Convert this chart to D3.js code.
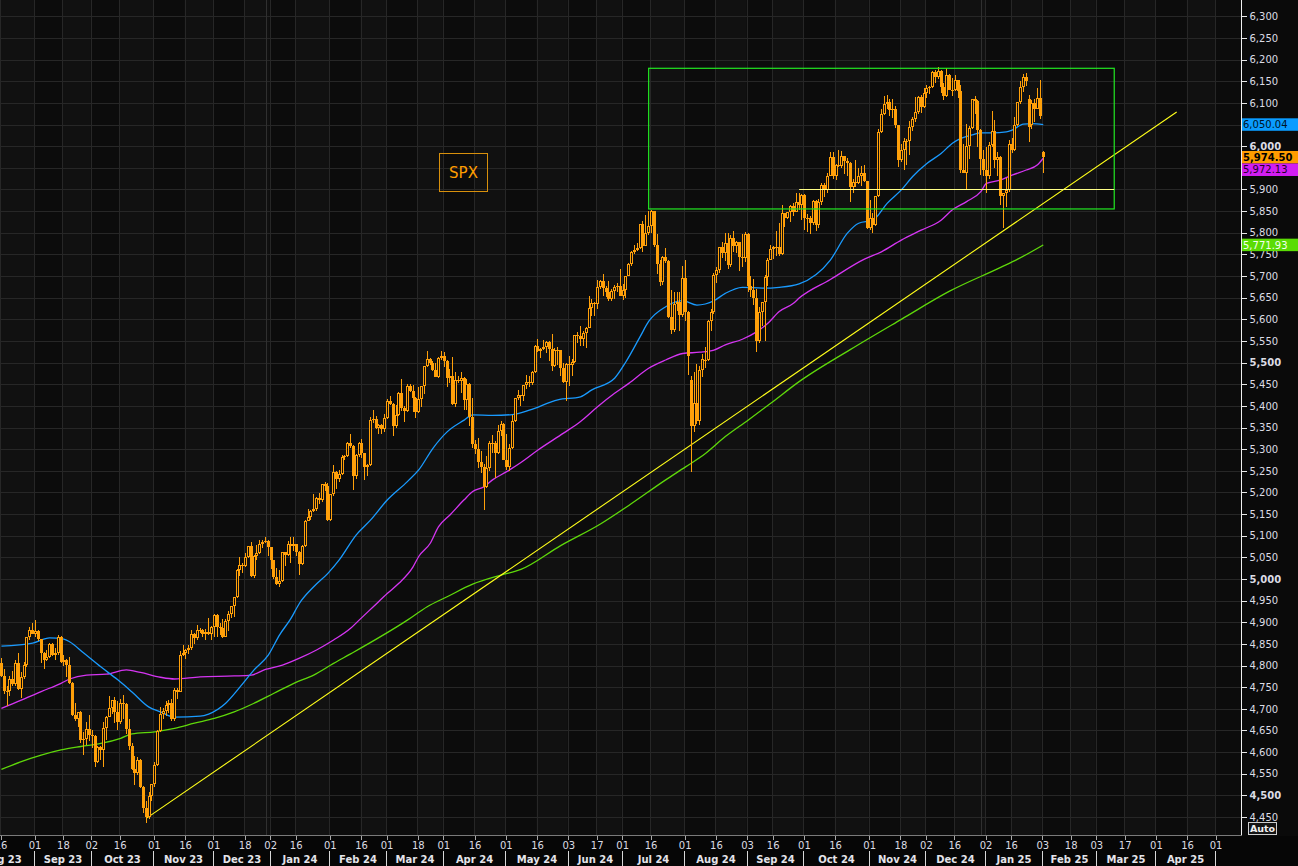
<!DOCTYPE html>
<html><head><meta charset="utf-8">
<script src="https://cdn.jsdelivr.net/npm/d3@7"></script>
<style>
html,body{margin:0;padding:0;background:#0a0a0a;overflow:hidden;}
svg{display:block;}
</style></head><body>
<svg id="chart" width="1298" height="866"></svg>
<script>
// ---------------- DATA ----------------
const startDate = "2023-08-16";
const holidays = ["2023-09-04","2023-11-23","2023-12-25","2024-01-01","2024-01-15","2024-02-19","2024-03-29",
  "2024-05-27","2024-06-19","2024-07-04","2024-09-02","2024-11-28","2024-12-25","2025-01-01","2025-01-09",
  "2025-01-20","2025-02-17","2025-04-18"];

const opens = [
 4805,4776,4738,4741,4770,4758,4805,4745,4774,4801,4865,4882,
 4874,4881,4861,4829,4814,4820,4849,4824,4828,4865,4808,4812,4801,4759,4686,4676,4692,4629,4630,4653,
 4640,4638,4578,4612,4605,4655,4681,4702,4720,4692,4669,4714,4712,4653,4615,4560,4552,4582,4520,4470,4449,4499,
 4526,4570,4649,4689,4696,4708,4713,4676,4744,4740,4824,4830,4835,4840,4873,4863,4882,4883,4874,4878,4874,
 4890,4916,4890,4886,4867,4903,4920,4937,4958,5020,5032,5030,5051,5077,5006,5054,5061,5080,5086,5087,
 5073,5043,5005,4988,4996,5062,5055,5080,5077,5080,5062,5034,5076,5134,5144,5158,5162,5186,5183,5219,5216,
 5136,5196,5248,5232,5242,5283,5285,5314,5308,5238,5286,5314,5290,5259,5264,5368,5369,5349,5356,5347,
 5372,5412,5405,5353,5378,5430,5396,5389,5446,5435,5419,5385,5417,5446,5491,5508,5499,5482,5467,5511,
 5516,5504,5465,5469,5404,5460,5457,5464,5414,5451,5374,5312,5300,5270,5258,5213,5256,5313,5315,5291,5342,5357,
 5276,5258,5303,5366,5418,5424,5423,5448,5456,5453,5478,5538,5526,5531,5535,5547,5532,5492,5526,5528,5488,5455,
 5497,5495,5502,5564,5562,5555,5568,5581,5626,5638,5635,5675,5688,5673,5664,5646,5666,5674,5678,
 5653,5667,5700,5727,5756,5761,5764,5820,5770,5800,5815,5851,5771,5727,5686,5744,5735,5605,5576,5635,5639,5610,
 5695,5617,5460,5354,5407,5366,5484,5505,5507,5596,5616,5703,5713,5766,5754,5777,5726,5789,5770,5778,5743,5742,
 5798,5678,5668,5650,5550,5616,5640,5697,5738,5762,5767,5768,5750,5845,5833,5848,5861,5849,5871,5864,
 5887,5832,5834,5823,5873,5817,5871,5911,5898,5932,5976,5930,5956,5954,5977,5965,5961,5906,5918,5915,5930,5939,5919,
 5810,5833,5817,5886,6032,6075,6098,6102,6084,6085,6048,5969,5991,6011,6013,6044,6063,6080,6114,6091,
 6123,6135,6137,6172,6160,6174,6136,6117,6165,6131,6130,6152,6128,5944,5938,6001,6043,6108,6105,6037,5971,
 5945,5931,6003,6035,5968,5976,5884,5892,5898,6004,5991,6050,6101,6137,6160,6110,6050,6100,6087,6112,
 5987
];
const highs = [
 4818,4792,4753,4777,4788,4812,4828,4786,4808,4867,4888,4898,
 4906,4882,4862,4832,4836,4852,4851,4840,4871,4868,4824,4815,4819,4762,4713,4693,4694,4646,4670,4685,
 4650,4640,4614,4615,4670,4684,4729,4721,4727,4718,4723,4733,4713,4676,4620,4591,4589,4585,4522,4488,4507,4526,
 4578,4650,4705,4702,4717,4721,4722,4747,4749,4833,4848,4838,4847,4883,4875,4894,4886,4885,4885,4910,4891,
 4920,4918,4898,4908,4907,4926,4938,4958,5022,5051,5036,5059,5077,5086,5055,5078,5089,5089,5097,5091,
 5074,5045,5025,5020,5062,5063,5087,5096,5098,5081,5064,5078,5137,5162,5159,5196,5190,5199,5220,5223,5222,
 5197,5264,5249,5252,5287,5287,5317,5334,5310,5288,5316,5323,5291,5265,5375,5391,5376,5358,5358,5381,
 5415,5423,5406,5401,5433,5461,5399,5450,5450,5449,5420,5443,5447,5491,5527,5511,5503,5499,5512,5527,
 5524,5506,5486,5513,5478,5468,5479,5466,5463,5454,5418,5322,5325,5296,5266,5284,5320,5333,5318,5356,5364,5360,
 5336,5312,5378,5418,5436,5426,5449,5472,5470,5481,5541,5554,5533,5552,5550,5551,5566,5534,5537,5530,5500,5499,
 5515,5509,5564,5571,5584,5572,5582,5653,5646,5640,5691,5690,5705,5677,5688,5670,5680,5685,5717,
 5682,5700,5729,5759,5771,5777,5821,5827,5840,5851,5853,5851,5796,5738,5747,5764,5737,5668,5664,5662,5663,5724,
 5736,5620,5470,5479,5496,5493,5520,5535,5598,5625,5706,5721,5767,5778,5799,5799,5795,5804,5780,5779,5796,5801,
 5800,5700,5693,5669,5629,5641,5703,5742,5772,5770,5804,5822,5864,5846,5849,5863,5868,5893,5891,5890,
 5889,5844,5838,5875,5875,5877,5915,5914,5939,5987,5986,5960,5991,5990,5978,5973,5963,5925,5969,5949,5954,5956,5920,
 5876,5846,5886,6040,6085,6115,6118,6110,6108,6092,6050,6006,6018,6017,6058,6067,6113,6117,6118,6135,
 6141,6139,6173,6177,6184,6176,6147,6180,6167,6158,6164,6153,6142,6006,6052,6047,6108,6116,6106,6040,5992,
 5997,6010,6081,6060,5986,5978,5893,5926,6014,6018,6067,6103,6151,6166,6168,6118,6106,6110,6135,6152,
 5990
];
const lows = [
 4773,4735,4706,4730,4752,4752,4744,4724,4770,4797,4860,4872,
 4866,4856,4806,4793,4810,4818,4822,4814,4825,4806,4800,4773,4757,4684,4672,4657,4620,4593,4617,4626,
 4610,4566,4574,4582,4566,4628,4680,4688,4667,4652,4665,4677,4642,4606,4559,4525,4548,4516,4460,4436,4445,4486,
 4520,4568,4646,4677,4683,4690,4672,4672,4722,4738,4822,4815,4826,4837,4850,4860,4876,4865,4860,4870,4859,
 4867,4865,4870,4864,4865,4881,4909,4913,4956,5007,5015,5028,5048,5005,5003,5043,5058,5072,5084,5054,
 5023,4999,4986,4982,4994,5029,5052,5037,5064,5052,5009,5032,5074,5133,5137,5155,5158,5173,5178,5204,5135,
 5135,5192,5207,5223,5240,5274,5283,5303,5205,5232,5283,5279,5229,5237,5262,5361,5347,5335,5335,5340,
 5369,5401,5330,5350,5376,5389,5363,5386,5431,5387,5373,5383,5398,5428,5490,5494,5480,5466,5465,5507,
 5489,5443,5452,5403,5398,5452,5429,5391,5390,5354,5303,5288,5256,5246,5160,5210,5250,5290,5233,5288,5330,5275,
 5253,5250,5301,5362,5414,5400,5411,5440,5443,5448,5475,5525,5511,5529,5523,5503,5481,5490,5495,5469,5452,5411,
 5446,5468,5500,5545,5539,5538,5534,5579,5608,5607,5623,5669,5655,5651,5643,5643,5647,5664,5653,
 5644,5649,5699,5724,5750,5757,5763,5756,5769,5795,5799,5767,5705,5678,5680,5729,5604,5567,5570,5619,5572,5605,
 5597,5471,5248,5340,5359,5355,5467,5487,5503,5573,5612,5684,5708,5741,5735,5716,5722,5756,5754,5712,5720,5732,
 5662,5651,5633,5524,5545,5585,5549,5677,5737,5739,5747,5747,5748,5814,5831,5826,5839,5848,5852,5829,
 5806,5802,5797,5818,5804,5810,5864,5882,5892,5931,5924,5923,5953,5950,5935,5932,5871,5892,5906,5912,5909,5918,5808,
 5806,5800,5815,5883,6030,6072,6087,6069,6066,6041,5951,5963,5945,5956,5980,6036,6056,6075,6076,6088,
 6111,6121,6134,6147,6156,6124,6106,6114,6131,6115,6128,6112,5939,5937,5902,5971,6040,6074,5998,5933,5931,
 5891,5925,5998,5950,5932,5865,5810,5860,5895,5985,5988,6046,6098,6125,6138,6010,6040,6056,6085,6062,
 5938
];
const closes = [
 4776,4741,4741,4770,4758,4805,4745,4774,4801,4865,4882,4874,
 4881,4861,4829,4814,4820,4849,4824,4828,4865,4808,4812,4801,4759,4686,4676,4692,4629,4630,4653,4640,
 4638,4578,4612,4605,4655,4681,4702,4720,4692,4669,4714,4712,4653,4615,4560,4552,4582,4520,4470,4449,4499,4526,
 4570,4649,4689,4696,4708,4713,4676,4744,4740,4824,4830,4835,4840,4873,4863,4882,4883,4874,4878,4874,4890,
 4916,4890,4886,4867,4903,4920,4937,4958,5020,5032,5030,5051,5077,5006,5054,5061,5080,5086,5087,5073,
 5043,5005,4988,4996,5062,5055,5080,5077,5080,5062,5034,5076,5134,5144,5158,5162,5186,5183,5219,5216,5136,
 5196,5248,5232,5242,5283,5285,5314,5308,5238,5286,5314,5290,5259,5264,5368,5369,5349,5356,5347,5372,
 5412,5405,5353,5378,5430,5396,5389,5446,5435,5419,5385,5417,5446,5491,5508,5499,5482,5467,5511,5516,
 5504,5465,5469,5404,5460,5457,5464,5414,5451,5374,5312,5300,5270,5258,5213,5256,5315,5315,5291,5342,5357,5276,
 5258,5303,5366,5418,5424,5423,5448,5456,5453,5478,5538,5526,5531,5535,5547,5532,5492,5528,5528,5488,5455,5497,
 5495,5502,5564,5562,5555,5568,5581,5626,5638,5635,5675,5688,5673,5664,5646,5666,5674,5678,5653,
 5667,5700,5727,5756,5761,5764,5820,5770,5800,5815,5851,5771,5727,5686,5744,5735,5605,5576,5635,5639,5610,5695,
 5617,5516,5354,5407,5366,5484,5508,5507,5596,5616,5703,5713,5766,5754,5777,5726,5789,5770,5778,5743,5742,5798,
 5678,5668,5650,5550,5616,5640,5697,5738,5762,5767,5768,5750,5845,5833,5848,5861,5849,5871,5864,5887,
 5834,5834,5823,5873,5817,5871,5911,5898,5932,5976,5930,5956,5954,5977,5965,5961,5906,5918,5915,5930,5939,5919,5810,
 5833,5817,5886,6032,6075,6098,6102,6084,6085,6048,5969,5991,6013,6013,6044,6063,6080,6114,6091,6123,
 6135,6137,6172,6160,6174,6136,6117,6165,6131,6130,6152,6128,5944,5938,6001,6043,6108,6105,6037,5971,5945,
 5931,6003,6035,5968,5976,5884,5892,5898,6004,5991,6050,6101,6137,6160,6151,6045,6100,6087,6112,6070,
 5974.5
];

// moving averages: [date, value]
const ma50 = [["2023-08-16",4845],["2023-08-31",4852],["2023-09-11",4864],["2023-09-18",4861],["2023-09-20",4855],
 ["2023-09-27",4829],["2023-10-05",4797],["2023-10-13",4767],["2023-10-20",4739],["2023-10-30",4704],["2023-11-03",4693],
 ["2023-11-10",4681],["2023-11-24",4683],["2023-11-29",4688],["2023-12-07",4713],["2023-12-14",4750],["2023-12-21",4790],
 ["2023-12-29",4824],["2024-01-05",4871],["2024-01-11",4909],["2024-01-17",4944],["2024-01-24",4982],["2024-01-31",5013],
 ["2024-02-06",5044],["2024-02-14",5102],["2024-02-22",5136],["2024-03-01",5183],["2024-03-12",5225],["2024-03-18",5252],
 ["2024-03-25",5302],["2024-04-02",5340],["2024-04-10",5367],["2024-04-15",5379],["2024-04-24",5378],["2024-05-03",5380],
 ["2024-05-13",5390],["2024-05-28",5414],["2024-06-07",5421],["2024-06-13",5437],["2024-06-26",5464],["2024-07-02",5502],
 ["2024-07-10",5560],["2024-07-15",5595],["2024-07-23",5629],["2024-07-31",5643],["2024-08-07",5633],["2024-08-15",5643],
 ["2024-08-21",5660],["2024-08-29",5674],["2024-09-10",5672],["2024-09-18",5674],["2024-09-27",5682],["2024-10-14",5737],
 ["2024-10-22",5799],["2024-10-28",5822],["2024-11-04",5829],["2024-11-11",5868],["2024-11-18",5899],["2024-11-22",5930],
 ["2024-12-02",5960],["2024-12-09",5983],["2024-12-13",6007],["2024-12-18",6018],["2024-12-24",6026],["2024-12-30",6031],
 ["2025-01-06",6031],["2025-01-14",6033],["2025-01-16",6037],["2025-01-23",6051],["2025-01-28",6052],["2025-02-03",6050.04]];
const ma100 = [["2023-08-16",4701],["2023-08-25",4720],["2023-09-06",4740],["2023-09-15",4759],["2023-09-20",4769],
 ["2023-09-28",4778],["2023-10-09",4780],["2023-10-18",4790],["2023-10-25",4784],["2023-11-03",4773],["2023-11-10",4769],
 ["2023-11-24",4774],["2023-12-12",4776],["2023-12-20",4778],["2023-12-28",4791],["2024-01-08",4801],["2024-01-17",4817],
 ["2024-01-25",4836],["2024-02-02",4859],["2024-02-12",4886],["2024-02-15",4905],["2024-02-23",4936],["2024-03-01",4967],
 ["2024-03-07",4990],["2024-03-14",5028],["2024-03-18",5052],["2024-03-22",5082],["2024-03-27",5121],["2024-04-03",5148],
 ["2024-04-10",5183],["2024-04-15",5202],["2024-04-19",5213],["2024-04-24",5229],["2024-05-01",5248],["2024-05-08",5269],
 ["2024-05-16",5298],["2024-05-30",5337],["2024-06-07",5364],["2024-06-17",5398],["2024-06-26",5429],["2024-07-03",5452],
 ["2024-07-15",5487],["2024-07-23",5506],["2024-07-31",5521],["2024-08-08",5524],["2024-08-15",5529],["2024-08-21",5541],
 ["2024-08-29",5554],["2024-09-06",5571],["2024-09-12",5591],["2024-09-18",5618],["2024-09-25",5637],["2024-09-27",5649],
 ["2024-10-14",5692],["2024-10-30",5739],["2024-11-07",5756],["2024-11-18",5783],["2024-11-27",5806],["2024-12-09",5829],
 ["2024-12-13",5853],["2024-12-20",5872],["2024-12-30",5895],["2025-01-02",5914],["2025-01-10",5922],["2025-01-16",5933],
 ["2025-01-24",5945],["2025-01-30",5957],["2025-02-03",5972.13]];
const ma200 = [["2023-08-16",4560],["2023-08-25",4578],["2023-09-06",4593],["2023-09-15",4605],["2023-09-26",4613],
 ["2023-10-05",4620],["2023-10-16",4632],["2023-10-20",4642],["2023-11-01",4647],["2023-11-10",4655],["2023-11-21",4667],
 ["2023-12-01",4678],["2023-12-12",4693],["2023-12-21",4713],["2024-01-03",4736],["2024-01-12",4759],["2024-01-24",4778],
 ["2024-02-02",4805],["2024-02-12",4827],["2024-03-12",4905],["2024-03-21",4936],["2024-04-02",4959],["2024-04-15",4988],
 ["2024-04-29",5009],["2024-05-08",5022],["2024-05-29",5077],["2024-06-18",5127],["2024-07-03",5170],["2024-07-23",5229],
 ["2024-08-01",5259],["2024-08-12",5290],["2024-08-21",5329],["2024-09-03",5367],["2024-09-13",5406],["2024-09-27",5456],
 ["2024-10-23",5530],["2024-11-18",5600],["2024-12-12",5665],["2025-01-10",5720],["2025-01-21",5739],["2025-02-03",5771.93]];

// annotations
const trendStart = ["2023-10-27", 4447];
const trendEnd = ["2025-04-10", 6079];
const boxStart = "2024-07-15", boxEnd = "2025-03-11", boxTop = 6180, boxBottom = 5855;
const levelStart = "2024-09-27", levelEnd = "2025-03-11", levelValue = 5900;

// axes
const yTicks = [4450,4500,4550,4600,4650,4700,4750,4800,4850,4900,4950,5000,5050,5100,5150,5200,5250,5300,5350,
  5400,5450,5500,5550,5600,5650,5700,5750,5800,5850,5900,5950,6000,6050,6100,6150,6200,6250,6300,6350];
const dayTicks = ["2023-08-16","2023-09-01","2023-09-18","2023-10-02","2023-10-16","2023-11-01","2023-11-16","2023-12-01",
  "2023-12-18","2024-01-02","2024-01-16","2024-02-01","2024-02-16","2024-03-01","2024-03-18","2024-04-01","2024-04-16",
  "2024-05-01","2024-05-16","2024-06-03","2024-06-17","2024-07-01","2024-07-16","2024-08-01","2024-08-16","2024-09-03",
  "2024-09-16","2024-10-01","2024-10-16","2024-11-01","2024-11-18","2024-12-02","2024-12-16","2025-01-02","2025-01-16",
  "2025-02-03","2025-02-18","2025-03-03","2025-03-17","2025-04-01","2025-04-16","2025-05-01"];
const monthStarts = ["2023-08-01","2023-09-01","2023-10-02","2023-11-01","2023-12-01","2024-01-02","2024-02-01","2024-03-01",
  "2024-04-01","2024-05-01","2024-06-03","2024-07-01","2024-08-01","2024-09-03","2024-10-01","2024-11-01","2024-12-02",
  "2025-01-02","2025-02-03","2025-03-03","2025-04-01","2025-05-01"];
const monthLabels = ["Aug 23","Sep 23","Oct 23","Nov 23","Dec 23","Jan 24","Feb 24","Mar 24","Apr 24","May 24","Jun 24",
  "Jul 24","Aug 24","Sep 24","Oct 24","Nov 24","Dec 24","Jan 25","Feb 25","Mar 25","Apr 25"];
const yearStarts = ["2024-01-02","2025-01-02"];
const tagValues = [6050.04, 5974.50, 5972.13, 5771.93];
const tagTexts = ["6,050.04","5,974.50","5,972.13","5,771.93"];

// ---------------- STYLE ----------------
const C = {
  bg:"#0a0a0a", plot:"#0c0c0c", band:"#111111", grid:"#272727",
  candle:"#ffa00a", blue:"#1a9bff", magenta:"#d535f2", green:"#5fd80a",
  trend:"#ffff1a", box:"#22e822", level:"#ffff88", text:"#dcdce4"
};
const tagStyle = [
  {fill:"#0a9cff", color:"#001428", weight:"normal"},
  {fill:"#ff9c00", color:"#000000", weight:"bold"},
  {fill:"#d21ef2", color:"#22002a", weight:"normal"},
  {fill:"#5bdc04", color:"#f4fff0", weight:"normal"}
];
const W = 1298, H = 866, PR = 1241.5, PB = 835.5;
const FONT = "DejaVu Sans, Verdana, sans-serif";

// ---------------- CALENDAR & SCALES ----------------
const parse = d3.utcParse("%Y-%m-%d"), fmt = d3.utcFormat("%Y-%m-%d");
const hol = new Set(holidays);
const cal = [];
for (let d = parse("2023-08-01"); d <= parse("2025-05-30"); d = d3.utcDay.offset(d, 1)) {
  const wd = d.getUTCDay(), s = fmt(d);
  if (wd === 0 || wd === 6 || hol.has(s)) continue;
  cal.push(s);
}
const ci = s => d3.bisectLeft(cal, s);
const i0 = ci(startDate);
const x = d3.scaleLinear().domain([i0, ci("2025-05-01")]).range([0, 1215]);
const y = d3.scaleLinear().domain([4500, 6000]).range([795.4, 146.2]);
const xc = s => x(ci(s) + 0.5);

const svg = d3.select("#chart");
svg.append("rect").attr("width", W).attr("height", H).attr("fill", C.bg);
const defs = svg.append("defs");
defs.append("clipPath").attr("id", "clip").append("rect").attr("x", 0).attr("y", 0).attr("width", PR).attr("height", PB);

const plot = svg.append("g").attr("clip-path", "url(#clip)");
plot.append("rect").attr("width", PR).attr("height", PB).attr("fill", C.plot);

// alternating bands between tick gridlines
const tickIdx = dayTicks.map(ci);
const bandEdges = tickIdx.concat([ci("2025-05-30")]);
const bands = plot.append("g");
for (let k = 0; k < bandEdges.length - 1; k += 2) {
  bands.append("rect").attr("x", x(bandEdges[k])).attr("y", 0)
    .attr("width", x(bandEdges[k + 1]) - x(bandEdges[k])).attr("height", PB).attr("fill", C.band);
}

// grid
const grid = plot.append("g").attr("shape-rendering", "crispEdges").attr("stroke", C.grid).attr("stroke-width", 1);
yTicks.forEach(v => {
  const yy = Math.round(y(v)) + 0.5;
  grid.append("line").attr("x1", 0).attr("x2", PR).attr("y1", yy).attr("y2", yy);
});
tickIdx.forEach(i => {
  const xx = Math.round(x(i)) + 0.5;
  grid.append("line").attr("x1", xx).attr("x2", xx).attr("y1", 0).attr("y2", PB);
});
yearStarts.forEach(s => {
  const xx = Math.round(x(ci(s)) - 4) + 0.5;
  grid.append("line").attr("x1", xx).attr("x2", xx).attr("y1", 0).attr("y2", PB).attr("stroke", "#303030");
});

// moving averages
const maLine = d3.line().x(d => xc(d[0])).y(d => y(d[1])).curve(d3.curveMonotoneX);
[[ma200, C.green], [ma100, C.magenta], [ma50, C.blue]].forEach(([data, col]) => {
  plot.append("path").attr("d", maLine(data)).attr("fill", "none").attr("stroke", col).attr("stroke-width", 1.3);
});

// trend line
plot.append("line").attr("x1", xc(trendStart[0])).attr("y1", y(trendStart[1]))
  .attr("x2", xc(trendEnd[0])).attr("y2", y(trendEnd[1])).attr("stroke", C.trend).attr("stroke-width", 1.1);

// candles
const cg = plot.append("g").attr("shape-rendering", "crispEdges");
const n = Math.min(opens.length, highs.length, lows.length, closes.length);
for (let i = 0; i < n; i++) {
  const o = opens[i], h = highs[i], l = lows[i], c = closes[i];
  const cx = Math.floor(x(i0 + i + 0.5)) + 0.5;
  const yO = Math.round(y(o)), yC = Math.round(y(c));
  const top = Math.min(yO, yC), bot = Math.max(yO, yC);
  const yH = Math.min(Math.round(y(h)), top), yL = Math.max(Math.round(y(l)), bot);
  if (yH < top) cg.append("line").attr("x1", cx).attr("x2", cx).attr("y1", yH).attr("y2", top).attr("stroke", C.candle);
  if (yL > bot) cg.append("line").attr("x1", cx).attr("x2", cx).attr("y1", bot).attr("y2", yL).attr("stroke", C.candle);
  if (c >= o && bot - top >= 3) {
    cg.append("rect").attr("x", cx - 1).attr("y", top + 0.5).attr("width", 2).attr("height", bot - top - 1)
      .attr("fill", C.plot).attr("stroke", C.candle).attr("stroke-width", 1);
  } else {
    cg.append("rect").attr("x", cx - 1.5).attr("y", top).attr("width", 3).attr("height", Math.max(bot - top, 1))
      .attr("fill", C.candle);
  }
}

// box and level line
plot.append("rect").attr("x", xc(boxStart)).attr("y", y(boxTop))
  .attr("width", xc(boxEnd) - xc(boxStart)).attr("height", y(boxBottom) - y(boxTop))
  .attr("fill", "none").attr("stroke", C.box).attr("stroke-width", 1.2);
plot.append("line").attr("x1", xc(levelStart)).attr("x2", xc(levelEnd))
  .attr("y1", y(levelValue)).attr("y2", y(levelValue)).attr("stroke", C.level).attr("stroke-width", 1.2);

// SPX label
plot.append("rect").attr("x", 439.5).attr("y", 153.5).attr("width", 48).attr("height", 38)
  .attr("fill", "none").attr("stroke", "#d8900c").attr("stroke-width", 1);
plot.append("text").attr("x", 463.5).attr("y", 172.5).attr("dy", "0.36em").attr("text-anchor", "middle")
  .attr("font-family", FONT).attr("font-size", 15).attr("fill", "#ff9d00").text("SPX");

// ---------------- AXES ----------------
svg.append("rect").attr("x", 0).attr("y", PB + 0.5).attr("width", W).attr("height", H - PB).attr("fill", "#060606");

// value tag positions (stacked so they do not overlap)
const tagH = 12.5;
const order = d3.range(tagValues.length).sort((a, b) => y(tagValues[a]) - y(tagValues[b]));
let lastBottom = -Infinity;
const tagY = [];
order.forEach(k => {
  let cy = y(tagValues[k]);
  if (cy - tagH / 2 < lastBottom) cy = lastBottom + tagH / 2;
  tagY[k] = cy; lastBottom = cy + tagH / 2;
});
const hiddenByTag = v => tagY.some(ty => Math.abs(y(v) - ty) < 4.5);

const yAxis = d3.axisRight(y).tickValues(yTicks).tickFormat(d3.format(",")).tickSize(5).tickPadding(3);
const yg = svg.append("g").attr("transform", `translate(${PR},0)`).call(yAxis);
yg.select(".domain").remove();
yg.selectAll(".tick line").attr("stroke", "#e8e8e8").attr("shape-rendering", "crispEdges");
yg.selectAll(".tick text").attr("fill", C.text).attr("font-family", FONT).attr("font-size", 10)
  .attr("font-weight", d => d % 500 === 0 ? "bold" : "normal");
yg.selectAll(".tick text").filter(d => hiddenByTag(d)).remove();
yg.selectAll(".tick").filter(d => y(d) > PB).remove();

svg.append("line").attr("x1", PR).attr("x2", PR).attr("y1", 0).attr("y2", PB + 0.5)
  .attr("stroke", "#f0f0f0").attr("shape-rendering", "crispEdges");
svg.append("line").attr("x1", 0).attr("x2", PR).attr("y1", PB).attr("y2", PB)
  .attr("stroke", "#7a7a7a").attr("shape-rendering", "crispEdges");

const xAxis = d3.axisBottom(x).tickValues(tickIdx).tickFormat(i => cal[i].slice(8, 10)).tickSize(4).tickPadding(2);
const xg = svg.append("g").attr("transform", `translate(0.5,${PB + 0.5})`).call(xAxis);
xg.select(".domain").remove();
xg.selectAll(".tick line").attr("stroke", "#a8a8a8").attr("shape-rendering", "crispEdges");
xg.selectAll(".tick text").attr("fill", C.text).attr("font-family", FONT).attr("font-size", 10);

// month separators + labels
const mx = monthStarts.map(s => Math.round(x(ci(s))) + 0.5);
const mg = svg.append("g");
mx.forEach((xx, k) => {
  if (k > 0) mg.append("line").attr("x1", xx).attr("x2", xx).attr("y1", 851).attr("y2", 866)
    .attr("stroke", "#d8d8d8").attr("shape-rendering", "crispEdges");
});
monthLabels.forEach((lab, k) => {
  mg.append("text").attr("x", (mx[k] + mx[k + 1]) / 2).attr("y", 862.5).attr("text-anchor", "middle")
    .attr("font-family", FONT).attr("font-size", 10).attr("font-weight", "bold").attr("fill", "#e4e4ea").text(lab);
});

// value tags
const tg = svg.append("g");
tagValues.forEach((v, k) => {
  const st = tagStyle[k];
  tg.append("rect").attr("x", PR + 0.5).attr("y", tagY[k] - tagH / 2).attr("width", W - PR).attr("height", tagH)
    .attr("fill", st.fill);
  tg.append("text").attr("x", PR + 1.5).attr("y", tagY[k]).attr("dy", "0.36em")
    .attr("font-family", FONT).attr("font-size", 10).attr("font-weight", st.weight).attr("fill", st.color).text(tagTexts[k]);
});

// Auto button
svg.append("rect").attr("x", 1248.5).attr("y", 822.5).attr("width", 28).attr("height", 12)
  .attr("fill", "#151515").attr("stroke", "#d0d0d0");
svg.append("text").attr("x", 1262.5).attr("y", 828.5).attr("dy", "0.36em").attr("text-anchor", "middle")
  .attr("font-family", FONT).attr("font-size", 9.5).attr("font-weight", "bold").attr("fill", "#f0f0f0").text("Auto");
</script>
</body></html>
